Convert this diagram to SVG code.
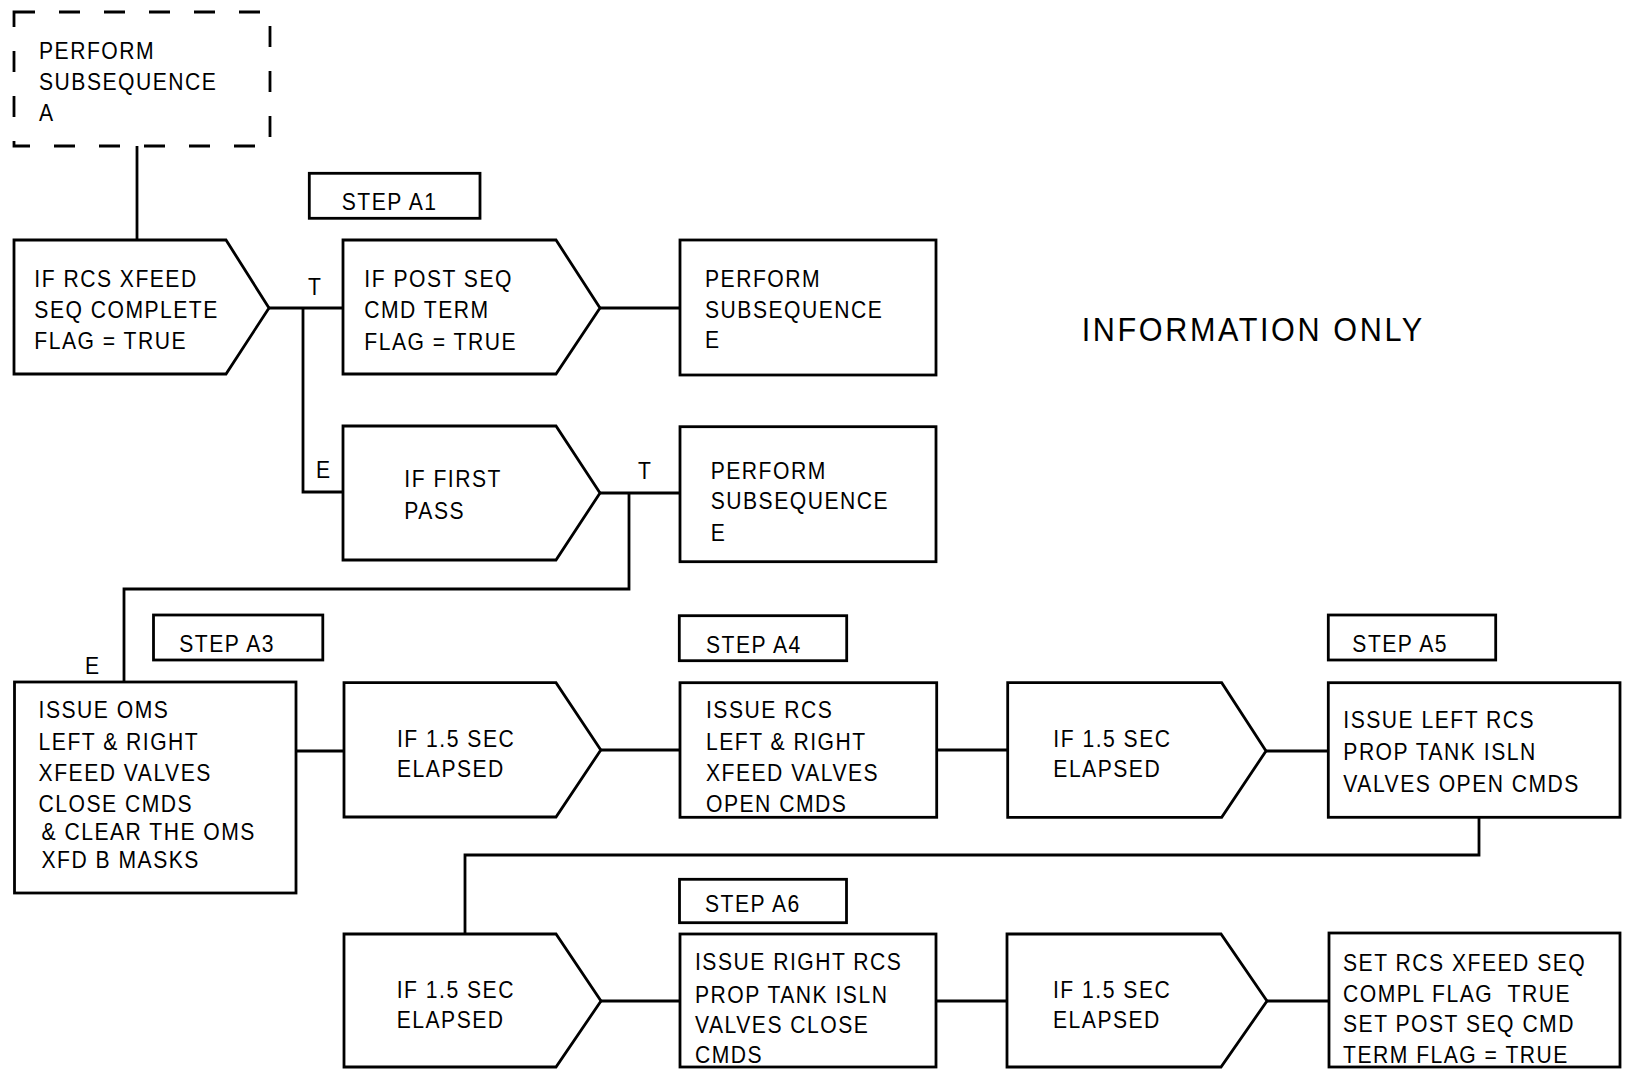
<svg xmlns="http://www.w3.org/2000/svg" width="1625" height="1069" viewBox="0 0 1625 1069">
<style>
.n{fill:#fff;stroke:#000;stroke-width:2.8}
.d{fill:none;stroke:#000;stroke-width:2.8;stroke-dasharray:21 24}
.c{fill:none;stroke:#000;stroke-width:2.8}
.t{font-family:"Liberation Sans",Arial,Helvetica,sans-serif;font-size:24px;letter-spacing:1.7px;fill:#000}
.big{font-family:"Liberation Sans",Arial,Helvetica,sans-serif;font-size:34px;letter-spacing:2.9px;fill:#000}
</style>
<rect width="1625" height="1069" fill="#fff"/>
<g id="connectors">
<path class="c" d="M137,146V240"/>
<path class="c" d="M269,308H343"/>
<path class="c" d="M303,308V492H343"/>
<path class="c" d="M600,308H680"/>
<path class="c" d="M600,493H680"/>
<path class="c" d="M629,493V589H124V682"/>
<path class="c" d="M296,751H344"/>
<path class="c" d="M600,750H680"/>
<path class="c" d="M936,750H1008"/>
<path class="c" d="M1266,751H1329"/>
<path class="c" d="M1479,817V855H465V934"/>
<path class="c" d="M601,1001H680"/>
<path class="c" d="M936,1001H1007"/>
<path class="c" d="M1267,1001H1329"/>
<text class="t" transform="translate(308,295) scale(0.88,1)">T</text>
<text class="t" transform="translate(316,478) scale(0.88,1)">E</text>
<text class="t" transform="translate(638,478.5) scale(0.88,1)">T</text>
<text class="t" transform="translate(85,674) scale(0.88,1)">E</text>
</g>
<g id="perform-a">
<path class="d" d="M14,12H270V146H14Z"/>
<text class="t" transform="translate(39,59.3) scale(0.88,1)"><tspan x="0" y="0">PERFORM</tspan><tspan x="0" y="30.7">SUBSEQUENCE</tspan><tspan x="0" y="61.4">A</tspan></text>
</g>
<g id="step-a1">
<rect class="n" x="309.3" y="173.3" width="170.7" height="45"/>
<text class="t" transform="translate(341.7,210) scale(0.88,1)">STEP A1</text>
</g>
<g id="if-rcs-xfeed">
<polygon class="n" points="14,240 226,240 269,308 226,374 14,374"/>
<text class="t" transform="translate(34.3,286.7) scale(0.88,1)"><tspan x="0" y="0">IF RCS XFEED</tspan><tspan x="0" y="31.3">SEQ COMPLETE</tspan><tspan x="0" y="62.6">FLAG = TRUE</tspan></text>
</g>
<g id="if-post-seq">
<polygon class="n" points="343,240 556,240 600,308 556,374 343,374"/>
<text class="t" transform="translate(364.3,286.7) scale(0.88,1)"><tspan x="0" y="0">IF POST SEQ</tspan><tspan x="0" y="31.6">CMD TERM</tspan><tspan x="0" y="63.3">FLAG = TRUE</tspan></text>
</g>
<g id="perform-e1">
<rect class="n" x="680" y="240" width="256" height="135"/>
<text class="t" transform="translate(705,286.7) scale(0.88,1)"><tspan x="0" y="0">PERFORM</tspan><tspan x="0" y="31.3">SUBSEQUENCE</tspan><tspan x="0" y="61.6">E</tspan></text>
</g>
<g id="if-first-pass">
<polygon class="n" points="343,426 556,426 600,493 556,560 343,560"/>
<text class="t" transform="translate(404.3,487.3) scale(0.88,1)"><tspan x="0" y="0">IF FIRST</tspan><tspan x="0" y="32">PASS</tspan></text>
</g>
<g id="perform-e2">
<rect class="n" x="680" y="426.7" width="256" height="135"/>
<text class="t" transform="translate(710.7,479) scale(0.88,1)"><tspan x="0" y="0">PERFORM</tspan><tspan x="0" y="30.3">SUBSEQUENCE</tspan><tspan x="0" y="61.7">E</tspan></text>
</g>
<g id="information-only">
<text class="big" transform="translate(1081.7,341) scale(0.9,1)">INFORMATION ONLY</text>
</g>
<g id="step-a3">
<rect class="n" x="153.5" y="615" width="169.3" height="45"/>
<text class="t" transform="translate(179.2,652.3) scale(0.88,1)">STEP A3</text>
</g>
<g id="issue-oms">
<rect class="n" x="14.5" y="682" width="281.5" height="211"/>
<text class="t" transform="translate(38.6,718.3) scale(0.88,1)"><tspan x="0" y="0">ISSUE OMS</tspan><tspan x="0" y="31.7">LEFT &amp; RIGHT</tspan><tspan x="0" y="62.5">XFEED VALVES</tspan><tspan x="0" y="94">CLOSE CMDS</tspan><tspan x="3.3" y="121.7">&amp; CLEAR THE OMS</tspan><tspan x="3.3" y="150">XFD B MASKS</tspan></text>
</g>
<g id="if-elapsed-1">
<polygon class="n" points="344,682.7 556,682.7 600.8,750 556,817 344,817"/>
<text class="t" transform="translate(397,746.7) scale(0.88,1)"><tspan x="0" y="0">IF 1.5 SEC</tspan><tspan x="0" y="30.6">ELAPSED</tspan></text>
</g>
<g id="step-a4">
<rect class="n" x="679.3" y="615.7" width="167.4" height="45"/>
<text class="t" transform="translate(706,652.7) scale(0.88,1)">STEP A4</text>
</g>
<g id="issue-rcs">
<rect class="n" x="680" y="682.7" width="256.7" height="134.6"/>
<text class="t" transform="translate(706,718.3) scale(0.88,1)"><tspan x="0" y="0">ISSUE RCS</tspan><tspan x="0" y="31.7">LEFT &amp; RIGHT</tspan><tspan x="0" y="62.7">XFEED VALVES</tspan><tspan x="0" y="93.7">OPEN CMDS</tspan></text>
</g>
<g id="if-elapsed-2">
<polygon class="n" points="1007.7,682.7 1221.7,682.7 1266,751 1221.7,817.3 1007.7,817.3"/>
<text class="t" transform="translate(1053.3,746.7) scale(0.88,1)"><tspan x="0" y="0">IF 1.5 SEC</tspan><tspan x="0" y="30.6">ELAPSED</tspan></text>
</g>
<g id="step-a5">
<rect class="n" x="1328.3" y="615" width="167.4" height="45"/>
<text class="t" transform="translate(1352.3,652.3) scale(0.88,1)">STEP A5</text>
</g>
<g id="issue-left-rcs">
<rect class="n" x="1328.3" y="682.7" width="291.7" height="134.6"/>
<text class="t" transform="translate(1343.3,727.7) scale(0.88,1)"><tspan x="0" y="0">ISSUE LEFT RCS</tspan><tspan x="0" y="32.3">PROP TANK ISLN</tspan><tspan x="0" y="64">VALVES OPEN CMDS</tspan></text>
</g>
<g id="if-elapsed-3">
<polygon class="n" points="344,934 556,934 601,1001 556,1067 344,1067"/>
<text class="t" transform="translate(396.7,998.3) scale(0.88,1)"><tspan x="0" y="0">IF 1.5 SEC</tspan><tspan x="0" y="30">ELAPSED</tspan></text>
</g>
<g id="step-a6">
<rect class="n" x="679.5" y="879.3" width="167" height="43.4"/>
<text class="t" transform="translate(705,911.7) scale(0.88,1)">STEP A6</text>
</g>
<g id="issue-right-rcs">
<rect class="n" x="680" y="934" width="256" height="133"/>
<text class="t" transform="translate(695,970) scale(0.88,1)"><tspan x="0" y="0">ISSUE RIGHT RCS</tspan><tspan x="0" y="32.7">PROP TANK ISLN</tspan><tspan x="0" y="63">VALVES CLOSE</tspan><tspan x="0" y="93">CMDS</tspan></text>
</g>
<g id="if-elapsed-4">
<polygon class="n" points="1007,934 1221,934 1267,1001 1221,1067 1007,1067"/>
<text class="t" transform="translate(1053,998.3) scale(0.88,1)"><tspan x="0" y="0">IF 1.5 SEC</tspan><tspan x="0" y="30">ELAPSED</tspan></text>
</g>
<g id="set-rcs-xfeed">
<rect class="n" x="1329" y="933" width="291" height="134"/>
<text class="t" xml:space="preserve" transform="translate(1343,971) scale(0.88,1)"><tspan x="0" y="0">SET RCS XFEED SEQ</tspan><tspan x="0" y="31">COMPL FLAG  TRUE</tspan><tspan x="0" y="61">SET POST SEQ CMD</tspan><tspan x="0" y="92">TERM FLAG = TRUE</tspan></text>
</g>
</svg>
